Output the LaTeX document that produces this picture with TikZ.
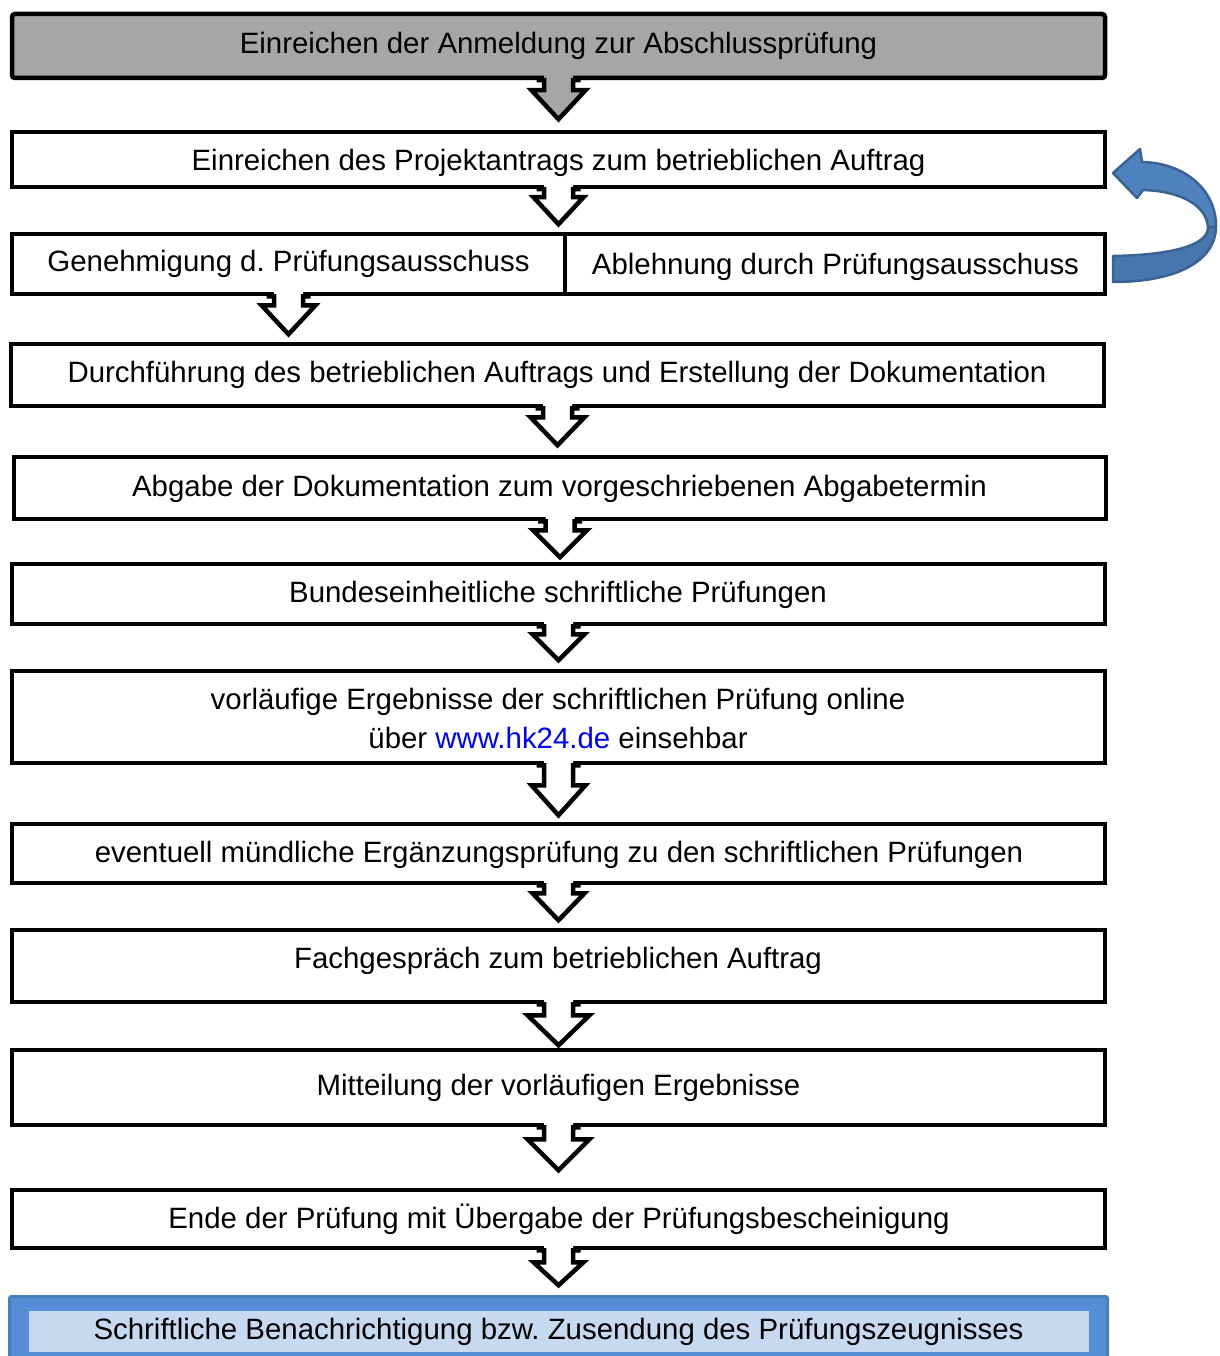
\documentclass[tikz,border=0pt]{standalone}
\usepackage{fontspec}
\setmainfont{Liberation Sans}
\usetikzlibrary{calc,fit}
\frenchspacing
\definecolor{boxgray}{HTML}{A6A6A6}
\definecolor{bluefill}{HTML}{4F81BD}
\definecolor{bluelow}{HTML}{4775AD}
\definecolor{blueedge}{HTML}{3A6293}
\definecolor{frameblue}{HTML}{558ED5}
\definecolor{frameedge}{HTML}{4A7EBB}
\definecolor{innerblue}{HTML}{C6D9F1}
\definecolor{linkblue}{HTML}{0000FF}
\newcommand\flowarrow[5]{%
  \begin{scope}[shift={(#1.south)}]
    \fill[#2] (-14.5,-5) -- (-14.5,#3) -- (-#5,#3) -- (0,#4) -- (#5,#3) -- (14.5,#3) -- (14.5,-5) -- cycle;
    \draw[line width=4.5pt, line join=miter] (-22,0) -- (-14.5,0) -- (-14.5,#3) -- (-#5,#3) -- (0,#4) -- (#5,#3) -- (14.5,#3) -- (14.5,0) -- (22,0);
  \end{scope}}
\begin{document}
\begin{tikzpicture}[x=1pt,y=-1pt,
  flowbox/.style={draw=black, line width=4.5pt, inner sep=0pt, fit={#1}},
  boxtext/.style={font=\fontsize{29.4}{34}\selectfont, anchor=base, inner sep=0pt}]
\useasboundingbox[fill=white] (0,0) rectangle (1219,1356);

% boxes
\node[flowbox={(12,14) (1105,78)}, fill=boxgray, rounded corners=3pt] (b1) {};
\node[flowbox={(12,132) (1105,187)}] (b2) {};
\node[flowbox={(12,234) (565,294)}] (b3a) {};
\node[flowbox={(565,234) (1105,294)}] (b3b) {};
\node[flowbox={(11,344) (1104,406)}] (b4) {};
\node[flowbox={(14,457) (1106,519)}] (b5) {};
\node[flowbox={(12,564) (1105,624)}] (b6) {};
\node[flowbox={(12,671) (1105,763)}] (b7) {};
\node[flowbox={(12,824) (1105,883)}] (b8) {};
\node[flowbox={(12,930) (1105,1002)}] (b9) {};
\node[flowbox={(12,1050) (1105,1125)}] (b10) {};
\node[flowbox={(12,1190) (1105,1248)}] (b11) {};
\node[fill=frameblue, draw=frameedge, line width=3pt, inner sep=0pt, rounded corners=2pt, fit={(9.5,1296.5) (1107.5,1366)}] (b12) {};
\node[fill=innerblue, inner sep=0pt, fit={(29,1311) (1089,1352)}] (b12in) {};

% arrows
\flowarrow{b1}{boxgray}{10}{39}{27}
\flowarrow{b2}{white}{8}{35}{25}
\flowarrow{b3a}{white}{9}{38}{27}
\flowarrow{b4}{white}{9}{37}{27}
\flowarrow{b5}{white}{9}{36}{27}
\flowarrow{b6}{white}{8}{34}{26}
\flowarrow{b7}{white}{20}{50}{27}
\flowarrow{b8}{white}{8}{35}{26}
\flowarrow{b9}{white}{11}{41}{31}
\flowarrow{b10}{white}{12}{43}{31}
\flowarrow{b11}{white}{12}{35}{25}

% curved return arrow
\filldraw[fill=bluelow, draw=blueedge, line width=2.5pt, line join=round]
  (1113,282) .. controls (1175,282) and (1216,262) .. (1216,226)
  -- (1208,228) .. controls (1207,246) and (1170,255) .. (1113,256) -- cycle;
\filldraw[fill=bluefill, draw=blueedge, line width=2.5pt, line join=round]
  (1216,226) .. controls (1216,190) and (1185,163) .. (1142,162)
  -- (1140,149) -- (1113,173) -- (1137,198) -- (1143,190)
  .. controls (1180,191) and (1207,205) .. (1208,228) -- cycle;

% texts
\node[boxtext] (t1) at (558.5,54) {Einreichen der Anmeldung zur Abschlussprüfung};
\node[boxtext] (t2) at (558.5,171) {Einreichen des Projektantrags zum betrieblichen Auftrag};
\node[boxtext] (t3a) at (288.5,272) {Genehmigung d. Prüfungsausschuss};
\node[boxtext] (t3b) at (835.5,274) {Ablehnung durch Prüfungsausschuss};
\node[boxtext] (t4) at (557,382) {Durchführung des betrieblichen Auftrags und Erstellung der Dokumentation};
\node[boxtext] (t5) at (559.5,496) {Abgabe der Dokumentation zum vorgeschriebenen Abgabetermin};
\node[boxtext] (t6) at (558,602) {Bundeseinheitliche schriftliche Prüfungen};
\node[boxtext] (t7a) at (558,709) {vorläufige Ergebnisse der schriftlichen Prüfung online};
\node[boxtext] (t7b) at (558,748) {über \textcolor{linkblue}{www.hk24.de} einsehbar};
\node[boxtext] (t8) at (559,862) {eventuell mündliche Ergänzungsprüfung zu den schriftlichen Prüfungen};
\node[boxtext] (t9) at (558,968) {Fachgespräch zum betrieblichen Auftrag};
\node[boxtext] (t10) at (558.5,1095) {Mitteilung der vorläufigen Ergebnisse};
\node[boxtext] (t11) at (559,1228) {Ende der Prüfung mit Übergabe der Prüfungsbescheinigung};
\node[boxtext] (t12) at (558.5,1339) {Schriftliche Benachrichtigung bzw. Zusendung des Prüfungszeugnisses};
\end{tikzpicture}
\end{document}
